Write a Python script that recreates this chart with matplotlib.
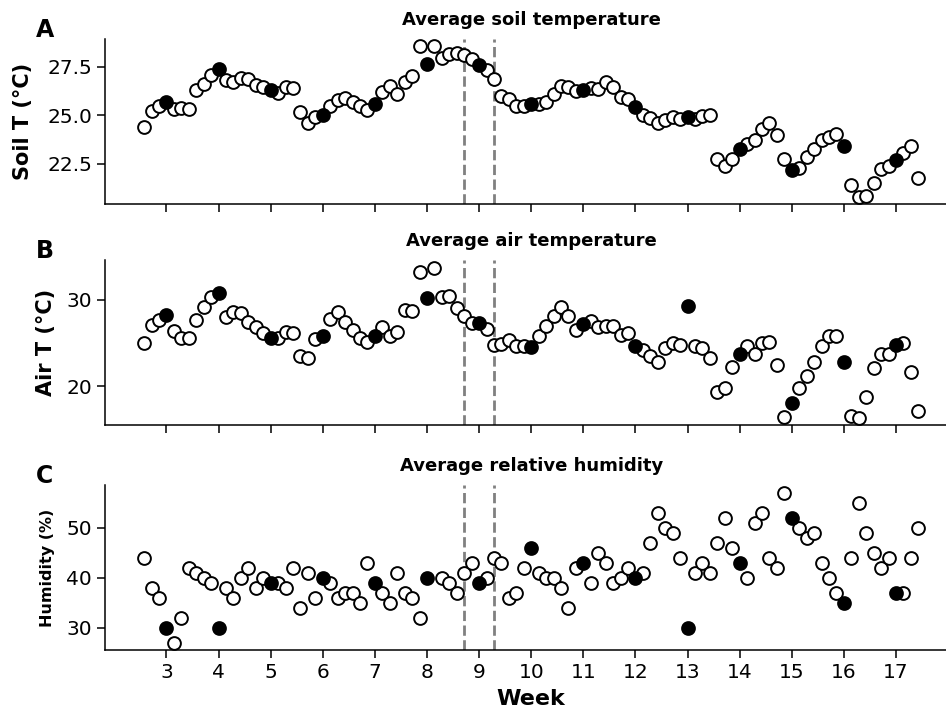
"""Weekly and daily soil/air temperature and humidity, three stacked panels"""

import numpy as np
from matplotlib import pyplot as plt

# daily readings from day 18 to day 122 (week = day / 7)
first_day, last_day = 18, 122

# None = day that falls on a whole week (drawn as a filled weekly point)
soil_daily = [
    24.4, 25.2, 25.5, None,
    25.3, 25.35, 25.3, 26.3, 26.6, 27.1, None,
    26.8, 26.7, 26.9, 26.85, 26.55, 26.45, None,
    26.15, 26.45, 26.4, 25.15, 24.6, 24.9, None,
    25.5, 25.8, 25.9, 25.7, 25.45, 25.25, None,
    26.2, 26.5, 26.1, 26.7, 27.05, 28.55, None,
    28.55, 27.95, 28.15, 28.2, 28.1, 27.9, None,
    27.35, 26.85, 26.0, 25.85, 25.5, 25.5, None,
    25.6, 25.7, 26.1, 26.5, 26.45, 26.25, None,
    26.4, 26.35, 26.7, 26.45, 25.95, 25.85, None,
    25.0, 24.85, 24.6, 24.75, 24.9, 24.8, None,
    24.8, 24.95, 25.0, 22.75, 22.4, 22.75, None,
    23.5, 23.7, 24.3, 24.6, 24.0, 22.75, None,
    22.25, 22.85, 23.25, 23.7, 23.85, 24.05, None,
    21.4, 20.8, 20.85, 21.5, 22.2, 22.4, None,
    23.05, 23.4, 21.75,
]

air_daily = [
    25.0, 27.1, 27.65, None,
    26.4, 25.55, 25.55, 27.65, 29.2, 30.35, None,
    27.95, 28.6, 28.45, 27.4, 26.8, 26.2, None,
    25.55, 26.3, 26.1, 23.55, 23.25, 25.45, None,
    27.75, 28.55, 27.4, 26.5, 25.6, 25.1, None,
    26.8, 25.85, 26.3, 28.75, 28.7, 33.15, None,
    33.7, 30.25, 30.45, 29.0, 28.05, 27.35, None,
    26.6, 24.75, 24.85, 25.35, 24.7, 24.7, None,
    25.75, 27.0, 28.05, 29.1, 28.05, 26.5, None,
    27.55, 26.8, 26.9, 26.9, 25.9, 26.1, None,
    24.2, 23.55, 22.75, 24.45, 24.95, 24.75, None,
    24.7, 24.4, 23.3, 19.3, 19.85, 22.2, None,
    24.7, 23.7, 24.95, 25.1, 22.4, 16.5, None,
    19.85, 21.2, 22.75, 24.7, 25.85, 25.85, None,
    16.6, 16.4, 18.8, 22.15, 23.7, 23.7, None,
    24.95, 21.7, 17.1,
]

humidity_daily = [
    44, 38, 36, None,
    27, 32, 42, 41, 40, 39, None,
    38, 36, 40, 42, 38, 40, None,
    39, 38, 42, 34, 41, 36, None,
    39, 36, 37, 37, 35, 43, None,
    37, 35, 41, 37, 36, 32, None,
    None, 40, 39, 37, 41, 43, None,
    40, 44, 43, 36, 37, 42, None,
    41, 40, 40, 38, 34, 42, None,
    39, 45, 43, 39, 40, 42, None,
    41, 47, 53, 50, 49, 44, None,
    41, 43, 41, 47, 52, 46, None,
    40, 51, 53, 44, 42, 57, None,
    50, 48, 49, 43, 40, 37, None,
    44, 55, 49, 45, 42, 44, None,
    37, 44, 50,
]

weeks = list(range(3, 18))
soil_weekly = [25.7, 27.4, 26.3, 25.0, 25.6, 27.65, 27.6, 25.6, 26.3, 25.4,
               24.9, 23.25, 22.15, 23.4, 22.7]
air_weekly = [28.25, 30.75, 25.55, 25.8, 25.85, 30.15, 27.25, 24.5, 27.15,
              24.7, 29.3, 23.7, 18.05, 22.85, 24.75]
humidity_weekly = [30, 30, 39, 40, 39, 40, 39, 46, 43, 40, 30, 43, 52, 35, 37]

# treatment window
window = [9 - 2 / 7, 9 + 2 / 7]

panels = [
    ("A", "Average soil temperature", "Soil T (°C)", 15,
     soil_daily, soil_weekly, [22.5, 25.0, 27.5]),
    ("B", "Average air temperature", "Air T (°C)", 15,
     air_daily, air_weekly, [20, 30]),
    ("C", "Average relative humidity", "Humidity (%)", 11.5,
     humidity_daily, humidity_weekly, [30, 40, 50]),
]

day_week = np.arange(first_day, last_day + 1) / 7

W, H = 946, 715
fig = plt.figure(figsize=(W / 100, H / 100), dpi=100)

ax_left = 105.4 / W
ax_width = 851.6 / W
ax_height = 165 / H
bottoms = [204, 425, 650]
label_pads = [10, 7.5, 8.5]

for i, (letter, title, ylabel, ysize, daily, weekly, yticks) in enumerate(panels):
    ax = fig.add_axes([ax_left, 1 - bottoms[i] / H, ax_width, ax_height])
    daily_vals = np.array([np.nan if v is None else v for v in daily], dtype=float)

    ax.plot(day_week, daily_vals, "o", ms=9.2, mfc="white", mec="black",
            mew=1.4, ls="none", zorder=3)
    ax.plot(weeks, weekly, "o", ms=9.2, mfc="black", mec="black",
            mew=1.4, ls="none", zorder=4)
    for xv in window:
        ax.axvline(xv, color="grey", ls="--", lw=2, zorder=2)

    ax.spines["top"].set_visible(False)
    ax.spines["right"].set_visible(False)
    ax.spines["left"].set_linewidth(1.1)
    ax.spines["bottom"].set_linewidth(1.1)
    ax.set_xticks(weeks)
    ax.set_yticks(yticks)
    ax.tick_params(axis="both", which="major", labelsize=14.5, length=6,
                   width=1.1)
    if i < 2:
        ax.tick_params(axis="x", labelbottom=False)
    else:
        ax.set_xlabel("Week", fontsize=16, fontweight="bold", labelpad=5)
    ax.set_ylabel(ylabel, fontsize=ysize, fontweight="bold",
                  labelpad=label_pads[i])
    ax.set_title(title, fontsize=13, fontweight="bold", pad=10)

    top_px = bottoms[i] - 165
    fig.text(36 / W, 1 - (top_px - 9) / H, letter, fontsize=17,
             fontweight="bold", va="center", ha="left")

fig.savefig("out.png", dpi=100)
